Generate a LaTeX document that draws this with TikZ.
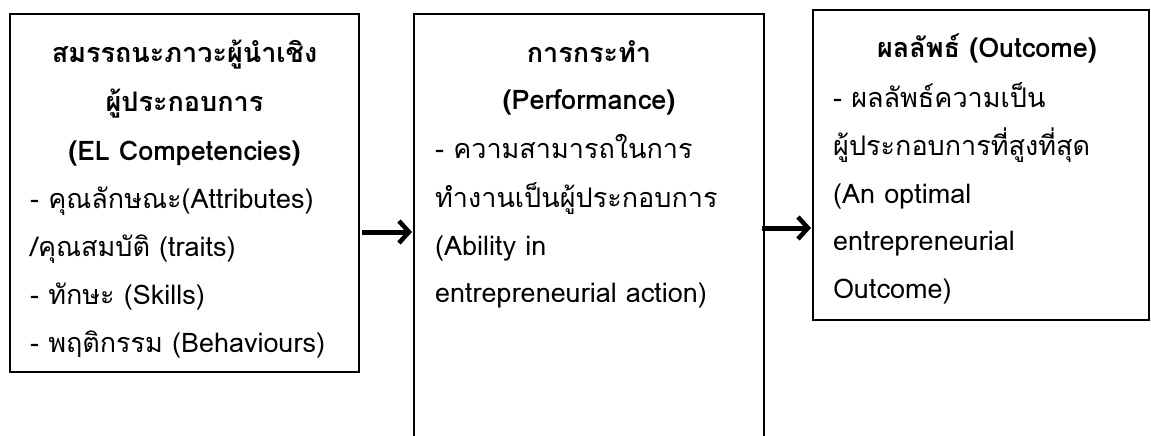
\documentclass[tikz,border=0pt]{standalone}
\usepackage{fontspec}
\setmainfont[Script=Thai]{Loma}
\usetikzlibrary{arrows.meta}
\tikzset{
  x=1pt, y=-1pt,
  boxline/.style={draw=black, line width=2pt},
  hd/.style={anchor=base, inner sep=0pt, font=\fontsize{27}{32}\selectfont\bfseries},
  bd/.style={anchor=base west, inner sep=0pt, font=\fontsize{27}{32}\selectfont},
  flow/.style={line width=5pt, -{Straight Barb[length=10pt, width=22pt, line width=4.5pt]}, shorten >=2pt}
}
\begin{document}
\begin{tikzpicture}
\useasboundingbox (0,0) rectangle (1151,436);
% boxes
\coordinate (b1nw) at (10,14);
\coordinate (b1se) at (359,372);
\draw[boxline] (b1nw) rectangle (b1se);
\coordinate (b2nw) at (414,14);
\coordinate (b2se) at (764,460);
\draw[boxline] (b2nw) rectangle (b2se);
\coordinate (b3nw) at (813,10);
\coordinate (b3se) at (1149,320);
\draw[boxline] (b3nw) rectangle (b3se);
% box 1 text
\node[hd] (t11) at (184.5,63) {สมรรถนะภาวะผู้นำเชิง};
\node[hd] (t12) at (184.5,111) {ผู้ประกอบการ};
\node[hd] (t13) at (184.5,160) {(EL Competencies)};
\node[bd] (t14) at (30,208) {- คุณลักษณะ(Attributes)};
\node[bd] (t15) at (30,256) {/คุณสมบัติ (traits)};
\node[bd] (t16) at (30,304) {- ทักษะ (Skills)};
\node[bd] (t17) at (30,352) {- พฤติกรรม (Behaviours)};
% box 2 text
\node[hd] (t21) at (589,63) {การกระทำ};
\node[hd] (t22) at (589,110) {(Performance)};
\node[bd] (t23) at (435,158) {- ความสามารถในการ};
\node[bd] (t24) at (435,207) {ทำงานเป็นผู้ประกอบการ};
\node[bd] (t25) at (435,255) {(Ability in};
\node[bd] (t26) at (435,302) {entrepreneurial action)};
% box 3 text
\node[hd] (t31) at (987,58) {ผลลัพธ์ (Outcome)};
\node[bd] (t32) at (833,107) {- ผลลัพธ์ความเป็น};
\node[bd] (t33) at (833,155) {ผู้ประกอบการที่สูงที่สุด};
\node[bd] (t34) at (833,203) {(An optimal};
\node[bd] (t35) at (833,250) {entrepreneurial};
\node[bd] (t36) at (833,298) {Outcome)};
% arrows
\coordinate (a1s) at (362,232);
\coordinate (a1e) at (414,232);
\coordinate (a2s) at (762,228);
\coordinate (a2e) at (813,228);
\draw[flow] (a1s) -- (a1e);
\draw[flow] (a2s) -- (a2e);
\end{tikzpicture}
\end{document}
